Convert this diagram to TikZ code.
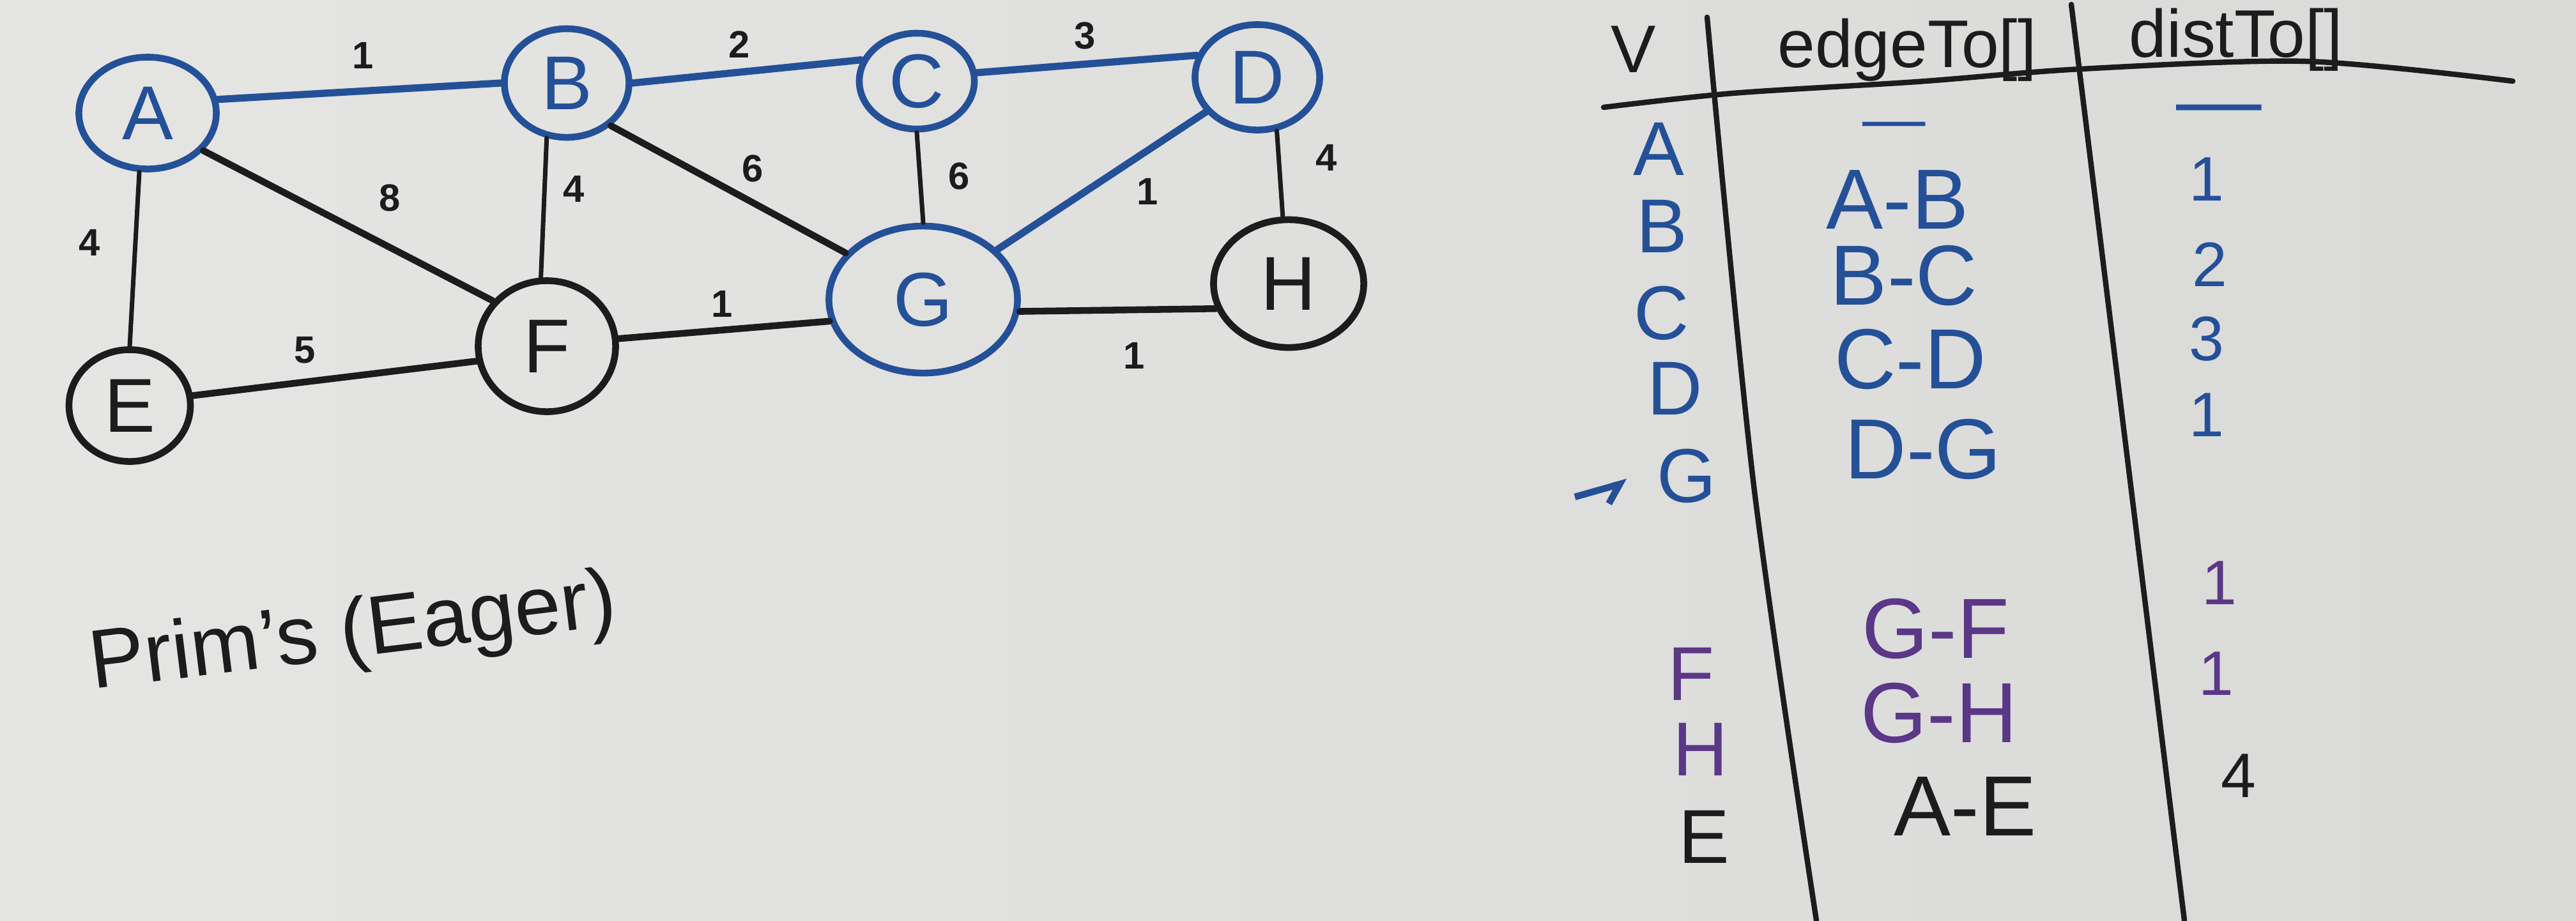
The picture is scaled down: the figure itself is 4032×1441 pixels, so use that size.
\documentclass[tikz,border=0pt]{standalone}
\usepackage{fontspec}
\setmainfont{Liberation Sans}
\usetikzlibrary{shapes.geometric,arrows.meta}
\definecolor{boardgray}{RGB}{229,229,227}
\definecolor{markerblue}{RGB}{36,80,152}
\definecolor{markerpurple}{RGB}{90,55,135}
\definecolor{markerblack}{RGB}{28,28,30}
\tikzset{
    vtx/.style={ellipse, draw, line width=3pt, inner sep=0pt, font=\fontsize{34}{40}\selectfont},
    bluevtx/.style={vtx, markerblue, text=markerblue},
    blackvtx/.style={vtx, markerblack, text=markerblack},
    treeedge/.style={markerblue, line width=3.2pt, line cap=round},
    thickedge/.style={markerblack, line width=3pt, line cap=round},
    thinedge/.style={markerblack, line width=2pt, line cap=round},
    wt/.style={font=\fontsize{17}{20}\selectfont\bfseries, text=markerblack},
    hdr/.style={font=\fontsize{30}{36}\selectfont, text=markerblack},
    vcell/.style={font=\fontsize{34}{40}\selectfont},
    ecell/.style={font=\fontsize{38}{44}\selectfont},
    dcell/.style={font=\fontsize{28}{34}\selectfont},
    tablerule/.style={markerblack, line width=2.4pt, line cap=round}
}

\begin{document}
\begin{tikzpicture}[x=0.01cm, y=-0.01cm]
        \shade[left color=boardgray, right color=boardgray!95!black] (0,0) rectangle (4032,1441);
        \useasboundingbox (0,0) rectangle (4032,1441);

        \node[bluevtx, minimum width=2.15cm, minimum height=1.75cm] (A) at (231,177) {A};
        \node[bluevtx, minimum width=1.95cm, minimum height=1.7cm] (B) at (887,130) {B};
        \node[bluevtx, minimum width=1.8cm, minimum height=1.5cm] (C) at (1435,127) {C};
        \node[bluevtx, minimum width=1.95cm, minimum height=1.65cm] (D) at (1968,121) {D};
        \node[blackvtx, minimum width=1.9cm, minimum height=1.75cm] (E) at (203,635) {E};
        \node[blackvtx, minimum width=2.15cm, minimum height=2.05cm] (F) at (856,542) {F};
        \node[bluevtx, minimum width=2.95cm, minimum height=2.3cm] (G) at (1445,469) {G};
        \node[blackvtx, minimum width=2.35cm, minimum height=2cm] (H) at (2017,444) {H};

        \foreach \u/\v in {A.11/B.180, B.0/C.159, C.8/D.160, D.214/G.34}
            \draw[treeedge] (\u) -- (\v);
        \foreach \u/\v in {A.326/F.140, B.316/G.149, E.9/F.192, F.6/G.193, G.353/H.199}
            \draw[thickedge] (\u) -- (\v);
        \foreach \u/\v in {A.262/E.north, B.250/F.95, C.south/G.north, D.290/H.95}
            \draw[thinedge] (\u) -- (\v);

        \foreach \n/\w/\x/\y in {AB/1/568/87, BC/2/1157/70, CD/3/1698/56, DG/1/1796/300,
                AE/4/140/380, AF/8/610/310, BF/4/898/296, BG/6/1178/264, CG/6/1501/276,
                DH/4/2076/247, EF/5/477/548, FG/1/1130/476, GH/1/1775/557}
            \node[wt] (w\n) at (\x,\y) {\w};

        \node[font=\fontsize{37}{44}\selectfont, text=markerblack, rotate=7] (title) at (553,995) {Prim's (Eager)};

        \draw[tablerule] plot[smooth] coordinates {(2510,168) (2712,146) (3000,128) (3257,108) (3610,96) (3933,127)};
        \draw[tablerule] plot[smooth] coordinates {(2672,27) (2745,760) (2843,1441)};
        \draw[tablerule] plot[smooth] coordinates {(3242,7) (3335,760) (3419,1441)};

        \node[hdr] (hV) at (2557,77) {V};
        \node[hdr] (hEdge) at (2985,78) {edgeTo[]};
        \node[hdr] (hDist) at (3500,62) {distTo[]};

        \foreach \v/\x/\y/\c in {A/2596/233/markerblue, B/2601/354/markerblue, C/2601/490/markerblue,
                D/2622/608/markerblue, G/2640/745/markerblue, F/2647/1055/markerpurple,
                H/2662/1173/markerpurple, E/2667/1310/markerblack}
            \node[vcell, text=\c] (v\v) at (\x,\y) {\v};

        \coordinate (arrowtail) at (2465,778);
        \draw[markerblue, line width=3pt, shorten >=0.35cm, -{Straight Barb[right, length=7pt]}] (arrowtail) -- (vG.west);

        \node[dcell, text=markerblue] (eA) at (2965,205) {—};
        \foreach \v/\t/\x/\y/\c in {B/A-B/2970/313/markerblue, C/B-C/2980/431/markerblue,
                D/C-D/2990/562/markerblue, G/D-G/3010/703/markerblue, F/G-F/3030/984/markerpurple,
                H/G-H/3035/1116/markerpurple, E/A-E/3076/1263/markerblack}
            \node[ecell, text=\c] (e\v) at (\x,\y) {\t};

        \node[ecell, text=markerblue] (dA) at (3473,183) {—};
        \foreach \v/\t/\x/\y/\c in {B/1/3454/281/markerblue, C/2/3459/414/markerblue,
                D/3/3454/531/markerblue, G/1/3454/650/markerblue, F/1/3474/913/markerpurple,
                H/1/3469/1055/markerpurple, E/4/3504/1215/markerblack}
            \node[dcell, text=\c] (d\v) at (\x,\y) {\t};
    \end{tikzpicture}
\end{document}
